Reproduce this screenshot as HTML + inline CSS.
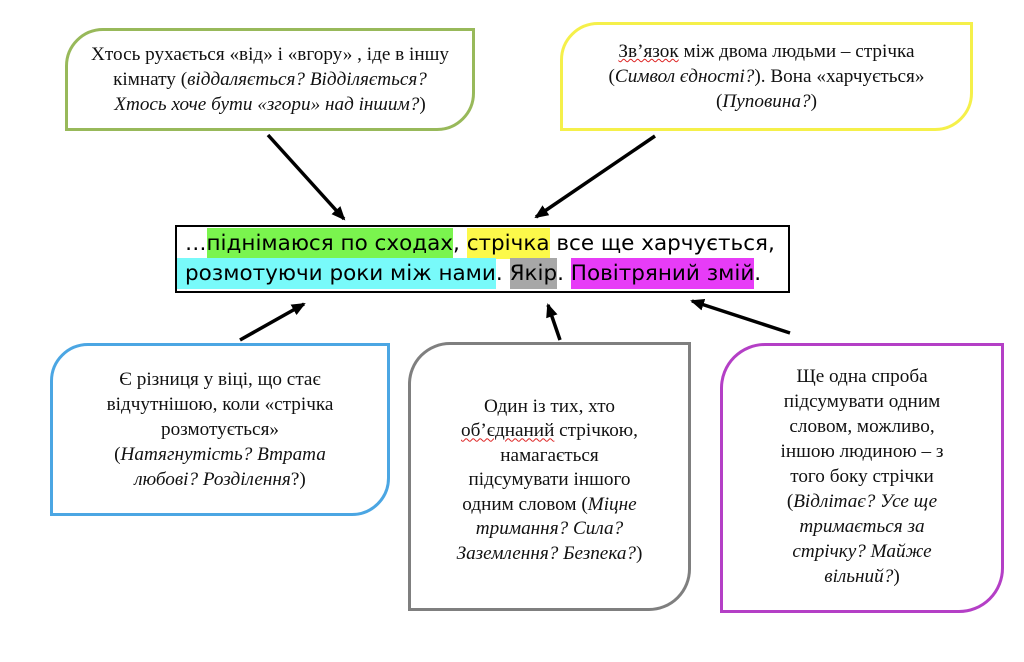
<!DOCTYPE html>
<html><head><meta charset="utf-8"><style>
body{margin:0;width:1024px;height:662px;background:#fff;position:relative;overflow:hidden;font-family:"Liberation Serif",serif;}
.b{position:absolute;box-sizing:border-box;background:#fff;display:flex;align-items:center;justify-content:center;text-align:center;font-size:19.2px;line-height:25px;color:#111;border-top-right-radius:0;border-bottom-left-radius:0;}
i{font-style:italic}
.m{position:absolute;left:175px;top:225px;width:615px;height:68px;border:2px solid #000;box-sizing:border-box;font-family:"DejaVu Sans",sans-serif;font-size:21.5px;line-height:30px;padding:2px 0 0 8px;white-space:nowrap;letter-spacing:0}
.m span{padding:3px 0}
.w{text-decoration:underline wavy #d22;text-decoration-thickness:1px}
</style></head><body>
<div class="b" style="left:65px;top:28px;width:410px;height:103px;border:3px solid #98b95a;border-top-left-radius:38px;border-bottom-right-radius:38px;">
<div>Хтось рухається «від» і «вгору» , іде в іншу<br>кімнату (<i>віддаляється? Відділяється?<br>Хтось хоче бути «згори» над іншим?</i>)</div></div>
<div class="b" style="left:560px;top:22px;width:413px;height:109px;border:3px solid #f5f04a;border-top-left-radius:38px;border-bottom-right-radius:38px;">
<div><span class="w">Зв’язок</span> між двома людьми – стрічка<br>(<i>Символ єдності?</i>). Вона «харчується»<br>(<i>Пуповина?</i>)</div></div>
<div class="m"><span>…</span><span style="background:#7af44e">піднімаюся по сходах</span>, <span style="background:#fcf94a">стрічка</span> все ще харчується,<br><span style="background:#78fafa;margin-left:-8px;padding-left:8px">розмотуючи роки між нами</span>. <span style="background:#a7a7a7">Якір</span>. <span style="background:#e73cf7">Повітряний змій</span>.</div>
<div class="b" style="left:50px;top:343px;width:340px;height:173px;border:3px solid #4ba6e3;border-top-left-radius:38px;border-bottom-right-radius:38px;">
<div>Є різниця у віці, що стає<br>відчутнішою, коли «стрічка<br>розмотується»<br>(<i>Натягнутість? Втрата<br>любові? Розділення</i>?)</div></div>
<div class="b" style="left:408px;top:342px;width:283px;height:269px;border:3px solid #7f7f7f;border-top-left-radius:42px;border-bottom-right-radius:42px;">
<div style="margin-top:8px;line-height:24.5px">Один із тих, хто<br><span class="w">об’єднаний</span> стрічкою,<br>намагається<br>підсумувати іншого<br>одним словом (<i>Міцне<br>тримання? Сила?<br>Заземлення? Безпека?</i>)</div></div>
<div class="b" style="left:720px;top:343px;width:284px;height:270px;border:3px solid #b43fc6;border-top-left-radius:45px;border-bottom-right-radius:45px;">
<div style="margin-top:-3px">Ще одна спроба<br>підсумувати одним<br>словом, можливо,<br>іншою людиною – з<br>того боку стрічки<br>(<i>Відлітає? Усе ще<br>тримається за<br>стрічку? Майже<br>вільний?</i>)</div></div>
<svg width="1024" height="662" style="position:absolute;left:0;top:0">
<defs><marker id="a" markerWidth="14" markerHeight="12" refX="12" refY="6" orient="auto" markerUnits="userSpaceOnUse" viewBox="0 0 14 12"><path d="M0,0L14,6L0,12z" fill="#000"/></marker></defs>
<g stroke="#000" stroke-width="3.5" marker-end="url(#a)">
<line x1="268" y1="135" x2="344" y2="219"/>
<line x1="655" y1="136" x2="536" y2="217"/>
<line x1="240" y1="340" x2="304" y2="304"/>
<line x1="560" y1="340" x2="548" y2="305"/>
<line x1="790" y1="333" x2="692" y2="301"/>
</g></svg>
</body></html>
